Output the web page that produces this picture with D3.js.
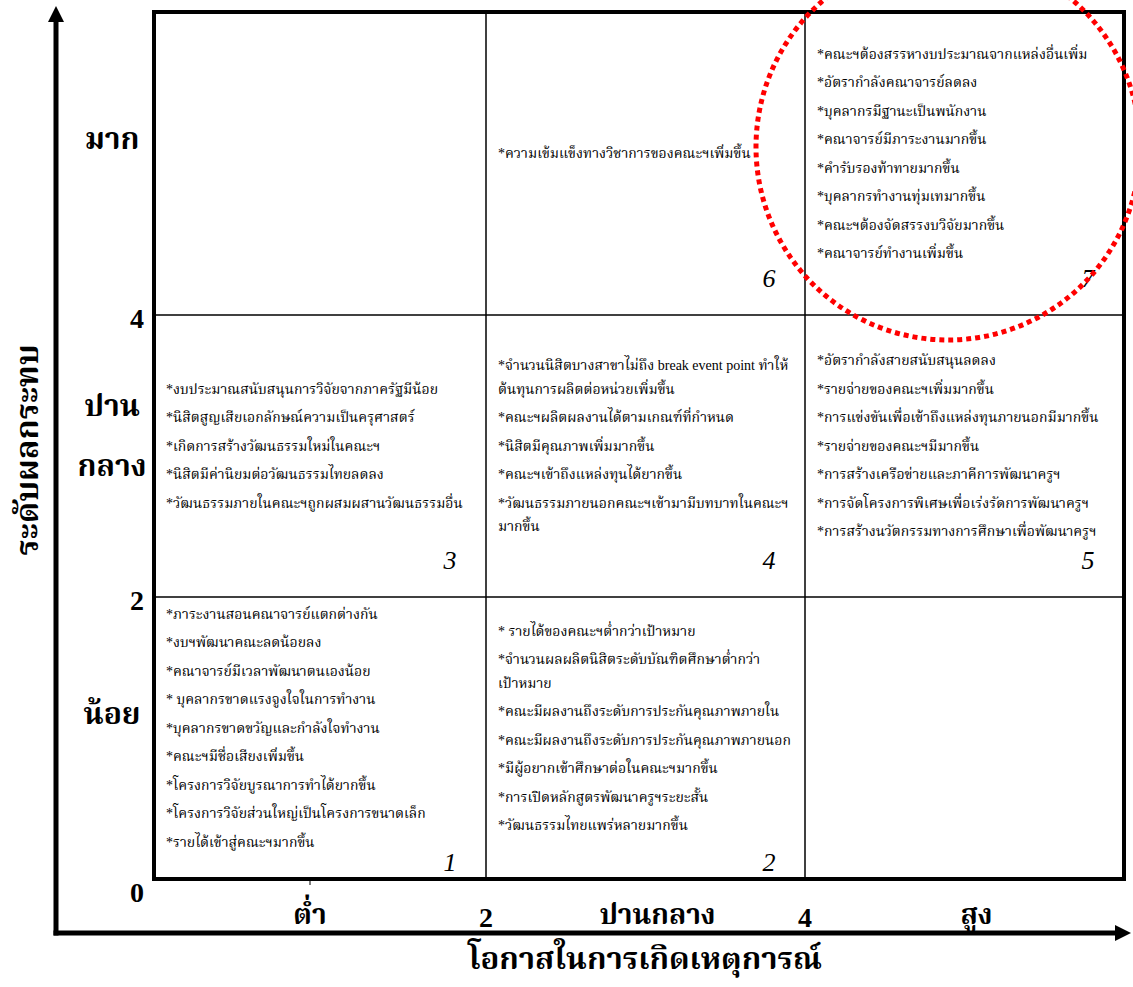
<!DOCTYPE html>
<meta charset="utf-8">
<style>
    html, body {
        margin: 0;
        background: #fff;
    }
    svg text {
        font-family: "Noto Serif Thai", "Norasi", "Noto Sans Thai", "Liberation Serif", serif;
        fill: #000;
    }
    .item {
        font-family: "Liberation Serif", "Noto Serif Thai", "Norasi", serif !important;
        font-size: 14px;
    }
    .level, .tick-num {
        font-weight: bold;
    }
    .cell-num {
        font-family: "Liberation Serif", serif;
        font-style: italic;
        font-size: 26px;
    }
</style>
<div id="container"></div>
<script src="https://d3js.org/d3.v7.min.js"></script>
<script>
    // axis levels and ticks
    var gridValues = [0, 2, 4, 6];
    var xTickNums = [2, 4];
    var yTickNums = [0, 2, 4];
    var xLevels = ["ต่ำ", "ปานกลาง", "สูง"];
    var yLevels = [["น้อย"], ["ปาน", "กลาง"], ["มาก"]];
    var xTitle = "โอกาสในการเกิดเหตุการณ์";
    var yTitle = "ระดับผลกระทบ";

    // items of each cell, one array per cell; "\n" marks a wrapped line
    var cell1Items = [
        "*ภาระงานสอนคณาจารย์แตกต่างกัน",
        "*งบฯพัฒนาคณะลดน้อยลง",
        "*คณาจารย์มีเวลาพัฒนาตนเองน้อย",
        "* บุคลากรขาดแรงจูงใจในการทำงาน",
        "*บุคลากรขาดขวัญและกำลังใจทำงาน",
        "*คณะฯมีชื่อเสียงเพิ่มขึ้น",
        "*โครงการวิจัยบูรณาการทำได้ยากขึ้น",
        "*โครงการวิจัยส่วนใหญ่เป็นโครงการขนาดเล็ก",
        "*รายได้เข้าสู่คณะฯมากขึ้น"
    ];
    var cell2Items = [
        "* รายได้ของคณะฯต่ำกว่าเป้าหมาย",
        "*จำนวนผลผลิตนิสิตระดับบัณฑิตศึกษาต่ำกว่า\nเป้าหมาย",
        "*คณะมีผลงานถึงระดับการประกันคุณภาพภายใน",
        "*คณะมีผลงานถึงระดับการประกันคุณภาพภายนอก",
        "*มีผู้อยากเข้าศึกษาต่อในคณะฯมากขึ้น",
        "*การเปิดหลักสูตรพัฒนาครูฯระยะสั้น",
        "*วัฒนธรรมไทยแพร่หลายมากขึ้น"
    ];
    var cell3Items = [
        "*งบประมาณสนับสนุนการวิจัยจากภาครัฐมีน้อย",
        "*นิสิตสูญเสียเอกลักษณ์ความเป็นครุศาสตร์",
        "*เกิดการสร้างวัฒนธรรมใหม่ในคณะฯ",
        "*นิสิตมีค่านิยมต่อวัฒนธรรมไทยลดลง",
        "*วัฒนธรรมภายในคณะฯถูกผสมผสานวัฒนธรรมอื่น"
    ];
    var cell4Items = [
        "*จำนวนนิสิตบางสาขาไม่ถึง break event point ทำให้\nต้นทุนการผลิตต่อหน่วยเพิ่มขึ้น",
        "*คณะฯผลิตผลงานได้ตามเกณฑ์ที่กำหนด",
        "*นิสิตมีคุณภาพเพิ่มมากขึ้น",
        "*คณะฯเข้าถึงแหล่งทุนได้ยากขึ้น",
        "*วัฒนธรรมภายนอกคณะฯเข้ามามีบทบาทในคณะฯ\nมากขึ้น"
    ];
    var cell5Items = [
        "*อัตรากำลังสายสนับสนุนลดลง",
        "*รายจ่ายของคณะฯเพิ่มมากขึ้น",
        "*การแข่งขันเพื่อเข้าถึงแหล่งทุนภายนอกมีมากขึ้น",
        "*รายจ่ายของคณะฯมีมากขึ้น",
        "*การสร้างเครือข่ายและภาคีการพัฒนาครูฯ",
        "*การจัดโครงการพิเศษเพื่อเร่งรัดการพัฒนาครูฯ",
        "*การสร้างนวัตกรรมทางการศึกษาเพื่อพัฒนาครูฯ"
    ];
    var cell6Items = [
        "*ความเข้มแข็งทางวิชาการของคณะฯเพิ่มขึ้น"
    ];
    var cell7Items = [
        "*คณะฯต้องสรรหางบประมาณจากแหล่งอื่นเพิ่ม",
        "*อัตรากำลังคณาจารย์ลดลง",
        "*บุคลากรมีฐานะเป็นพนักงาน",
        "*คณาจารย์มีภาระงานมากขึ้น",
        "*คำรับรองท้าทายมากขึ้น",
        "*บุคลากรทำงานทุ่มเทมากขึ้น",
        "*คณะฯต้องจัดสรรงบวิจัยมากขึ้น",
        "*คณาจารย์ทำงานเพิ่มขึ้น"
    ];

    // cell number, column (x level) and row (y level)
    var cellNums = [1, 2, 3, 4, 5, 6, 7];
    var cellCols = [0, 1, 0, 1, 2, 1, 2];
    var cellRows = [0, 0, 1, 1, 1, 2, 2];
    var cellItems = [cell1Items, cell2Items, cell3Items, cell4Items, cell5Items, cell6Items, cell7Items];

    var cells = cellNums.map(function(n, i) {
        return {num: n, col: cellCols[i], row: cellRows[i], items: cellItems[i]};
    });

    var W = 1133, H = 987;

    var svg = d3.select("div#container")
        .append("svg")
        .attr("width", W)
        .attr("height", H);

    // scales: the first column is a little wider than the others
    var x = d3.scaleLinear().domain(gridValues).range([154, 486, 805, 1124]);
    var y = d3.scaleLinear().domain(gridValues).range([879, 597, 315, 12]);

    // axes with arrow heads
    var axisX0 = 56, axisY0 = 933;
    svg.append("line")
        .attr("x1", axisX0).attr("y1", axisY0 + 2.5)
        .attr("x2", axisX0).attr("y2", 20)
        .attr("stroke", "#000").attr("stroke-width", 5);
    svg.append("path")
        .attr("d", "M" + axisX0 + ",6 L" + (axisX0 - 8) + ",22 L" + (axisX0 + 8) + ",22 Z");
    svg.append("line")
        .attr("x1", axisX0 - 2.5).attr("y1", axisY0)
        .attr("x2", 1116).attr("y2", axisY0)
        .attr("stroke", "#000").attr("stroke-width", 5);
    svg.append("path")
        .attr("d", "M1131," + axisY0 + " L1115," + (axisY0 - 8) + " L1115," + (axisY0 + 8) + " Z");

    // inner grid lines
    var grid = svg.append("g");
    grid.selectAll("line.v")
        .data(gridValues.slice(1, 3))
        .enter().append("line")
        .attr("x1", function(d) { return x(d); })
        .attr("x2", function(d) { return x(d); })
        .attr("y1", y(0)).attr("y2", y(6))
        .attr("stroke", "#000").attr("stroke-width", 1.5);
    grid.selectAll("line.h")
        .data(gridValues.slice(1, 3))
        .enter().append("line")
        .attr("y1", function(d) { return y(d); })
        .attr("y2", function(d) { return y(d); })
        .attr("x1", x(0)).attr("x2", x(6))
        .attr("stroke", "#000").attr("stroke-width", 1.5);

    // outer frame
    svg.append("rect")
        .attr("x", x(0)).attr("y", y(6))
        .attr("width", x(6) - x(0)).attr("height", y(0) - y(6))
        .attr("fill", "none").attr("stroke", "#000").attr("stroke-width", 4);

    // small tick under the low column
    svg.append("line")
        .attr("x1", x(1) - 10).attr("x2", x(1) - 10)
        .attr("y1", y(0)).attr("y2", y(0) + 6)
        .attr("stroke", "#000").attr("stroke-width", 1);

    // cell texts
    var lineH = 23.5, itemGap = 5;
    var cellG = svg.selectAll("g.cell")
        .data(cells)
        .enter().append("g")
        .attr("class", "cell");

    cellG.each(function(c) {
        var g = d3.select(this);
        var lines = [];
        var pos = 0;
        c.items.forEach(function(item) {
            item.split("\n").forEach(function(t) {
                lines.push({text: t, off: pos});
                pos += lineH;
            });
            pos += itemGap;
        });
        var blockH = pos - lineH - itemGap;
        var x0 = x(c.col * 2), x1 = x(c.col * 2 + 2);
        var yTop = y(c.row * 2 + 2), yBot = y(c.row * 2);
        var mid = (yTop + yBot) / 2 - 10;
        var start = mid - blockH / 2;
        g.selectAll("text.item")
            .data(lines)
            .enter().append("text")
            .attr("class", "item")
            .attr("x", x0 + 12)
            .attr("y", function(d) { return start + d.off; })
            .attr("dy", "0.35em")
            .text(function(d) { return d.text; });
        g.append("text")
            .attr("class", "cell-num")
            .attr("x", x1 - 36)
            .attr("y", yBot - (c.row === 0 ? 8 : 28))
            .attr("text-anchor", "middle")
            .text(c.num);
    });

    // tick numbers
    svg.selectAll("text.ytick")
        .data(yTickNums)
        .enter().append("text")
        .attr("class", "tick-num")
        .attr("x", 137)
        .attr("y", function(d) { return d === 0 ? y(d) + 13 : y(d) + 3; })
        .attr("dy", "0.35em")
        .attr("text-anchor", "middle")
        .style("font-size", "28px")
        .style("font-family", "Liberation Serif, serif")
        .text(function(d) { return d; });
    svg.selectAll("text.xtick")
        .data(xTickNums)
        .enter().append("text")
        .attr("class", "tick-num")
        .attr("x", function(d) { return x(d); })
        .attr("y", 917)
        .attr("dy", "0.35em")
        .attr("text-anchor", "middle")
        .style("font-size", "28px")
        .style("font-family", "Liberation Serif, serif")
        .text(function(d) { return d; });

    // level names
    svg.selectAll("text.xlevel")
        .data(xLevels)
        .enter().append("text")
        .attr("class", "level")
        .attr("x", function(d, i) { return i === 0 ? x(1) - 10 : (x(i * 2) + x(i * 2 + 2)) / 2 + 12; })
        .attr("y", 914)
        .attr("dy", "0.35em")
        .attr("text-anchor", "middle")
        .style("font-size", "28px")
        .text(function(d) { return d; });
    yLevels.forEach(function(words, i) {
        var c = (y(i * 2) + y(i * 2 + 2)) / 2;
        words.forEach(function(w, k) {
            svg.append("text")
                .attr("class", "level")
                .attr("x", 112)
                .attr("y", (i === 1 ? 405 : c - 25) + k * 60)
                .attr("dy", "0.35em")
                .attr("text-anchor", "middle")
                .style("font-size", "30px")
                .text(w);
        });
    });

    // axis titles
    svg.append("text")
        .attr("class", "level")
        .attr("x", 645).attr("y", 958)
        .attr("dy", "0.35em")
        .attr("text-anchor", "middle")
        .style("font-size", "31px")
        .text(xTitle);
    svg.append("text")
        .attr("class", "level")
        .attr("transform", "translate(27,450) rotate(-90)")
        .attr("dy", "0.35em")
        .attr("text-anchor", "middle")
        .style("font-size", "32px")
        .text(yTitle);

    // red dotted ring round cell 7
    svg.append("ellipse")
        .attr("cx", 948).attr("cy", 147)
        .attr("rx", 192).attr("ry", 193)
        .attr("fill", "none")
        .attr("stroke", "#f00")
        .attr("stroke-width", 5)
        .attr("stroke-dasharray", "5,4");
</script>
